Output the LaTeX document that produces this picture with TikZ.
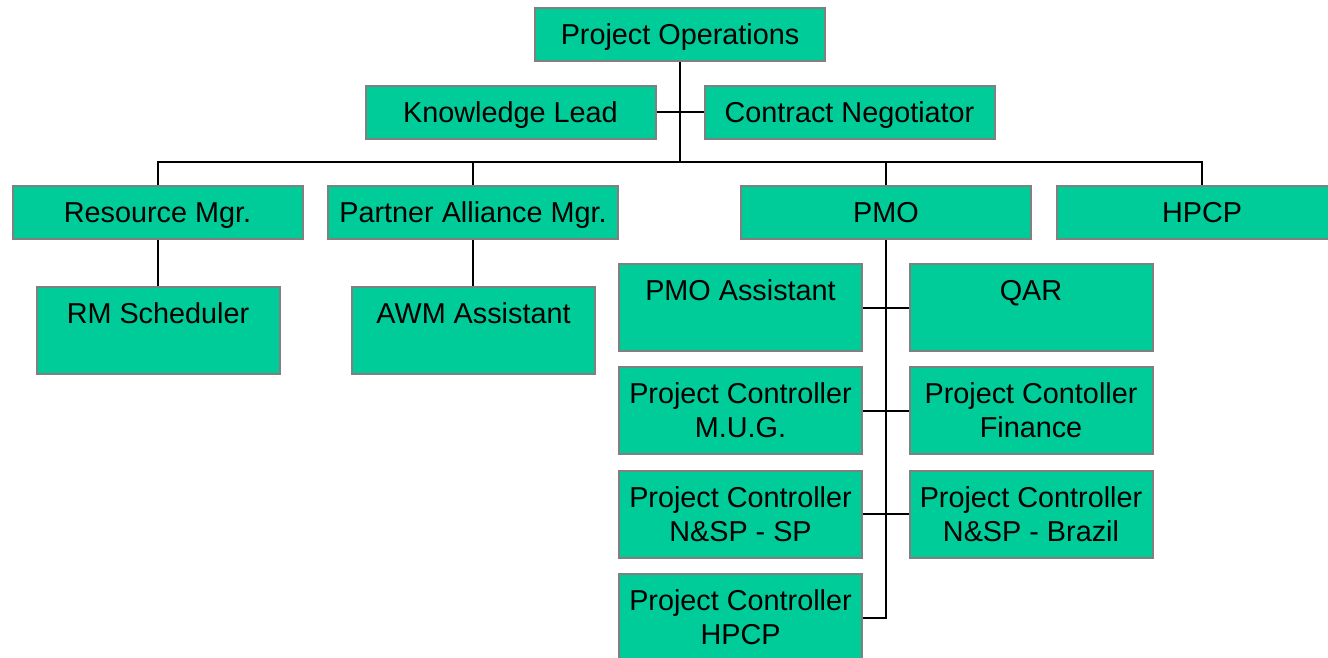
\documentclass[tikz,border=0pt]{standalone}
\usepackage{fontspec}
\setmainfont{Liberation Sans}
\usepackage{xcolor}
\definecolor{boxgreen}{RGB}{0,204,153}
\definecolor{boxgrey}{RGB}{128,128,128}

\begin{document}
\begin{tikzpicture}[x=0.5pt,y=-0.5pt]
\tikzstyle{unit} = [rectangle, draw=boxgrey, line width=1pt, fill=boxgreen,
minimum width=145pt, minimum height=26.5pt, inner sep=0pt, align=center,
text height=10.3pt, text depth=0pt, font=\fontsize{14.4}{17}\selectfont]
\tikzstyle{staff} = [unit, text height=, text depth=,
minimum width=121.5pt, minimum height=43.5pt]
\tikzstyle{line} = [draw, line width=1pt, black];
\useasboundingbox (0,0) rectangle (1328,658);
% head
\node [unit] (ops) at (680,34.5) {Project Operations};
\node [unit] (klead) at (510.5,112.5) {Knowledge Lead};
\node [unit] (contract) at (849.5,112.5) {Contract Negotiator};
\coordinate (bus) at (680,162);
% row 2
\node [unit] (resmgr) at (157.5,212.5) {Resource Mgr.};
\node [unit] (partner) at (473,212.5) {Partner Alliance Mgr.};
\node [unit] (pmo) at (886,212.5) {PMO};
\node [unit] (hpcp) at (1202,212.5) {HPCP};
% row 3
\node [staff] (rmsched) at (158,330.5) {RM Scheduler\\\mbox{}};
\node [staff] (awm) at (473.5,330.5) {AWM Assistant\\\mbox{}};
% PMO staff
\node [staff] (pmoasst) at (740.5,307.5) {PMO Assistant\\\mbox{}};
\node [staff] (qar) at (1031,307.5) {QAR\\\mbox{}};
\node [staff] (pcmug) at (740.5,410.5) {Project Controller\\M.U.G.};
\node [staff] (pcfin) at (1031,410.5) {Project Contoller\\Finance};
\node [staff] (pcsp) at (740.5,514) {Project Controller\\N\&SP - SP};
\node [staff] (pcbr) at (1031,514) {Project Controller\\N\&SP - Brazil};
\node [staff] (pchpcp) at (740.5,617.5) {Project Controller\\HPCP};

\tikzstyle{every path}=[line]
\path (ops) -- (bus);
\path (klead) -- (contract);
\path (resmgr.north) |- (hpcp.north |- bus) -- (hpcp.north);
\path (partner.north) -- (partner.north |- bus);
\path (pmo.north) -- (pmo.north |- bus);
\path (resmgr.south) -- (resmgr.south |- rmsched.north);
\path (partner.south) -- (partner.south |- awm.north);
\path (pmo.south) |- (pchpcp.east);
\path (pmoasst) -- (qar);
\path (pcmug) -- (pcfin);
\path (pcsp) -- (pcbr);

\end{tikzpicture}
\end{document}
